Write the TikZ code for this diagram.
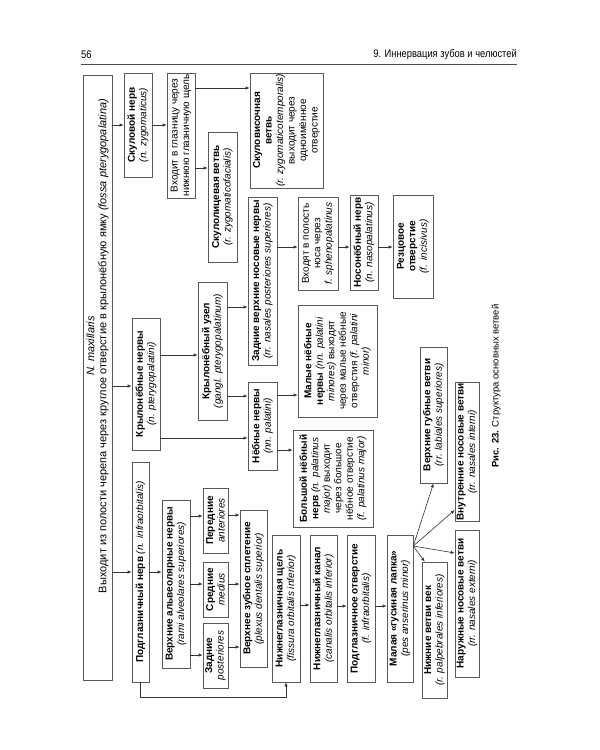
\documentclass[tikz,border=0pt]{standalone}
\usepackage{fontspec}
\setmainfont{Liberation Sans}
\newfontfamily\hdrfont[FakeStretch=0.85]{Liberation Sans}
\usetikzlibrary{arrows.meta,calc}
\begin{document}
\begin{tikzpicture}[x=1pt,y=-1pt,
  bx/.style={draw=black!65, line width=0.6pt, rotate=90, align=center, inner sep=1pt,
    font=\fontsize{10}{11.5}\selectfont, text=black},
  txt/.style={rotate=90, align=center, inner sep=0pt, font=\fontsize{10}{11.5}\selectfont, text=black},
  arr/.style={draw=black!80, line width=0.6pt, -{Latex[length=4pt,width=3.2pt]}},
  ln/.style={draw=black!80, line width=0.6pt},
]
\fill[white] (0,0) rectangle (600,750);
\useasboundingbox (0,0) rectangle (600,750);

% header
\node[anchor=west, inner sep=0pt, font=\hdrfont\fontsize{11}{12}\selectfont] (pg) at (81,55) {56};
\node[anchor=east, inner sep=0pt, font=\hdrfont\fontsize{11}{12}\selectfont] (ch) at (517,55) {9. Иннервация зубов и челюстей};
\draw[ln, black!70] (81,64) -- (517,64);

% boxes
\node[bx, minimum width=605, minimum height=29] (maxb) at (97.5,377.5) {};
\node[txt, font=\fontsize{11}{12}\selectfont] (maxt) at (97.5,346) {\textit{N. maxillaris}\\Выходит из полости черепа через круглое отверстие в крылонёбную ямку \textit{(fossa pterygopalatina)}};

\node[bx, minimum width=104, minimum height=28] (zyg) at (138,125) {\textbf{Скуловой нерв}\\\textit{(n. zygomaticus)}};
\node[bx, minimum width=125, minimum height=28] (orbin) at (181,135.5) {Входит в глазницу через\\нижнюю глазничную щель};
\node[bx, minimum width=115, minimum height=73] (zt) at (286.5,130.5) {\textbf{Скуловисочная}\\\textbf{ветвь}\\\textit{(r. zygomaticotemporalis)}\\выходит через\\одноимённое\\отверстие};
\node[bx, minimum width=130, minimum height=29] (zf) at (222.5,197) {\textbf{Скулолицевая ветвь}\\\textit{(r. zygomaticofacialis)}};

\node[bx, minimum width=132, minimum height=28] (ptn) at (146,384) {\textbf{Крылонёбные нервы}\\\textit{(n. pterygopalatini)}};
\node[bx, minimum width=138, minimum height=29] (gang) at (212.5,351) {\textbf{Крылонёбный узел}\\\textit{(gangl. pterygopalatinum)}};
\node[bx, minimum width=168, minimum height=29] (pns) at (262.5,281) {\textbf{Задние верхние носовые нервы}\\\textit{(rr. nasales posteriores superiores)}};
\node[bx, minimum width=93, minimum height=40] (sph) at (318,243.5) {Входят в полость\\носа через\\\textit{f. sphenopalatinus}};
\node[bx, minimum width=95, minimum height=28] (nasop) at (364,242.5) {\textbf{Носонёбный нерв}\\\textit{(n. nasopalatinus)}};
\node[bx, minimum width=103, minimum height=40] (incis) at (413,246.5) {\textbf{Резцовое}\\\textbf{отверстие}\\\textit{(f. incisivus)}};

\node[bx, minimum width=88, minimum height=29] (pal) at (262.5,426) {\textbf{Нёбные нервы}\\\textit{(nn. palatini)}};
\node[bx, minimum width=112, minimum height=79] (minor) at (337.5,361) {\textbf{Малые нёбные}\\\textbf{нервы} \textit{(nn. palatini}\\\textit{minores)} выходят\\через малые нёбные\\отверстия \textit{(f. palatini}\\\textit{minor)}};
\node[bx, minimum width=97, minimum height=80] (major) at (333,478.5) {\textbf{Большой нёбный}\\\textbf{нерв} \textit{(n. palatinus}\\\textit{major)} выходит\\через большое\\нёбное отверстие\\\textit{(f. palatinus major)}};

\node[bx, minimum width=220, minimum height=17] (ifo) at (140.5,572) {\textbf{Подглазничный нерв} \textit{(n. infraorbitalis)}};
\node[bx, minimum width=168, minimum height=28] (alv) at (176,584) {\textbf{Верхние альвеолярные нервы}\\\textit{(rami alveolares superiores)}};
\node[bx, minimum width=65, minimum height=25] (ant) at (215.5,520.5) {\textbf{Передние}\\\textit{anteriores}};
\node[bx, minimum width=55, minimum height=25] (med) at (215.5,589.5) {\textbf{Средние}\\\textit{medius}};
\node[bx, minimum width=65, minimum height=25] (post) at (215.5,655.5) {\textbf{Задние}\\\textit{posteriores}};
\node[bx, minimum width=157, minimum height=27] (plex) at (253.5,588.5) {\textbf{Верхнее зубное сплетение}\\\textit{(plexus dentalis superior)}};

\node[bx, minimum width=147, minimum height=28] (fis) at (286,608.5) {\textbf{Нижнеглазничная щель}\\\textit{(fissura orbitalis inferior)}};
\node[bx, minimum width=147, minimum height=27] (can) at (323.5,608.5) {\textbf{Нижнеглазничный канал}\\\textit{(canalis orbitalis inferior)}};
\node[bx, minimum width=147, minimum height=28] (ifor) at (361,608.5) {\textbf{Подглазничное отверстие}\\\textit{(f. infraorbitalis)}};
\node[bx, minimum width=147, minimum height=26] (pes) at (400,608.5) {\textbf{Малая «гусиная лапка»}\\\textit{(pes anserinus minor)}};

\node[bx, minimum width=136, minimum height=27] (lab) at (433.5,415) {\textbf{Верхние губные ветви}\\\textit{(rr. labiales superiores)}};
\node[bx, minimum width=134, minimum height=24] (nint) at (467,452) {\textbf{Внутренние носовые ветви}\\\textit{(rr. nasales interni)}};
\node[bx, minimum width=147, minimum height=24] (nasext) at (467,603.5) {\textbf{Наружные носовые ветви}\\\textit{(rr. nasales externi)}};
\node[bx, minimum width=136, minimum height=25] (palp) at (434.5,630) {\textbf{Нижние ветви век}\\\textit{(r. palpebrales inferiores)}};

\node[txt, font=\fontsize{9.5}{11}\selectfont] (cap) at (496,386) {\textbf{Рис. 23.} Структура основных ветвей};

% connectors
\draw[arr] (maxb.south |- 0,125) -- (zyg.north |- 0,125);
\draw[arr] (zyg.south |- 0,125) -- (orbin.north |- 0,125);
\draw[arr] (orbin.south |- 0,88) -- (zt.north |- 0,88);
\draw[arr] (orbin.south |- 0,168) -- (zf.north |- 0,168);
\draw[arr] (maxb.south |- 0,386) -- (ptn.north |- 0,386);
\draw[arr] (ptn.south |- 0,355) -- (gang.north |- 0,355);
\draw[arr] (gang.south |- 0,307) -- (pns.north |- 0,307);
\draw[arr] (gang.south |- 0,396) -- (pal.north |- 0,396);
\draw[arr] (ptn.south |- 0,438) -- (pal.north |- 0,438);
\draw[arr] (pns.south |- 0,247) -- (sph.north |- 0,247);
\draw[arr] (sph.south |- 0,247) -- (nasop.north |- 0,247);
\draw[arr] (nasop.south |- 0,247) -- (incis.north |- 0,247);
\draw[arr] (pal.south |- 0,395) -- (minor.north |- 0,395);
\draw[arr] (pal.south |- 0,450) -- (major.north |- 0,450);
\draw[arr] (maxb.south |- 0,572) -- (ifo.north |- 0,572);
\draw[arr] (ifo.south |- 0,572) -- (alv.north |- 0,572);
\draw[arr] (alv.south |- 0,516) -- (ant.north |- 0,516);
\draw[arr] (alv.south |- 0,584) -- (med.north |- 0,584);
\draw[arr] (alv.south |- 0,655) -- (post.north |- 0,655);
\draw[arr] (ant.south |- 0,515) -- (plex.north |- 0,515);
\draw[arr] (med.south |- 0,584) -- (plex.north |- 0,584);
\draw[arr] (post.south |- 0,647) -- (plex.north |- 0,647);
\draw[arr] (ifo.west) -- (ifo.west |- 0,697) -- (fis.west |- 0,697) -- (fis.west);
\draw[arr] (fis.south |- 0,605) -- (can.north |- 0,605);
\draw[arr] (can.south |- 0,606) -- (ifor.north |- 0,606);
\draw[arr] (ifor.south |- 0,606) -- (pes.north |- 0,606);
\coordinate (fan) at (pes.south |- 0,546);
\draw[arr] (fan) -- (lab.west);
\draw[arr] (fan) -- (nint.north |- 0,510);
\draw[arr] (fan) -- (nasext.north |- 0,553);
\draw[arr] (fan) -- ($(palp.north east)+(3,0)$);
\end{tikzpicture}
\end{document}
